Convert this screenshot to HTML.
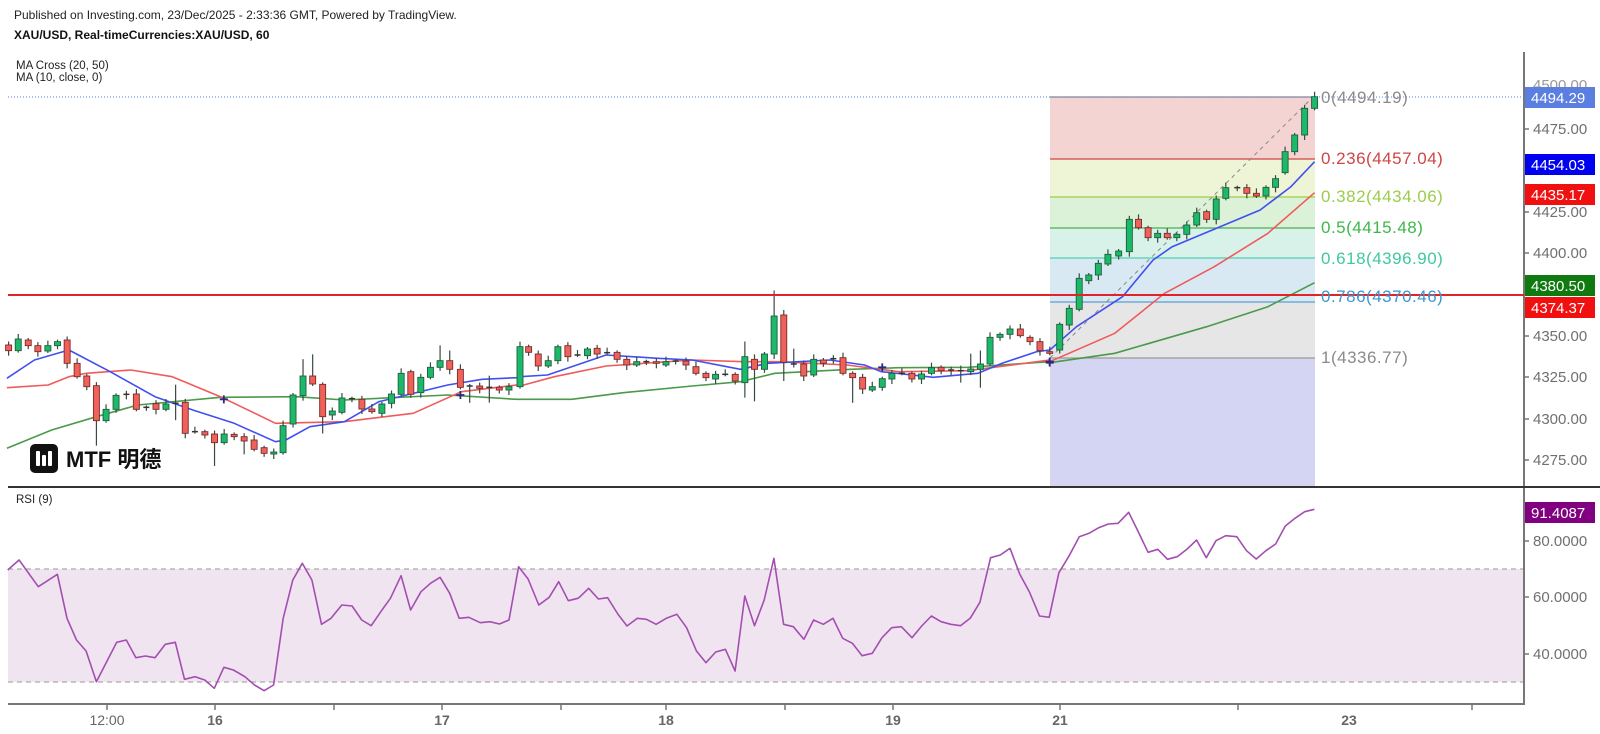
<!DOCTYPE html>
<html><head><meta charset="utf-8">
<style>
html,body{margin:0;padding:0;background:#fff;}
body{width:1600px;height:734px;overflow:hidden;position:relative;font-family:"Liberation Sans","Noto Sans CJK SC",sans-serif;}
svg{position:absolute;left:0;top:0;}
</style></head><body>
<svg id="s" width="1600" height="734" xmlns="http://www.w3.org/2000/svg" font-family="Liberation Sans, Noto Sans CJK SC, sans-serif">
<text x="14" y="19" font-size="12" fill="#222">Published on Investing.com, 23/Dec/2025 - 2:33:36 GMT, Powered by TradingView.</text>
<text x="14" y="39" font-size="12" font-weight="bold" fill="#111">XAU/USD, Real-timeCurrencies:XAU/USD, 60</text>
<text x="16" y="69" font-size="11.5" fill="#222">MA Cross (20, 50)</text>
<text x="16" y="81" font-size="11.5" fill="#222">MA (10, close, 0)</text>
<g id="fib"></g>
<g id="rsi"></g>
<g id="ma"></g>
<g id="cd"></g>
<!-- axes -->
<line x1="1524" y1="52" x2="1524" y2="705" stroke="#777" stroke-width="2"/>
<line x1="8" y1="487" x2="1600" y2="487" stroke="#333" stroke-width="2"/>
<line x1="8" y1="704" x2="1524" y2="704" stroke="#777" stroke-width="2"/>
<line x1="8" y1="295" x2="1524" y2="295" stroke="#e0242a" stroke-width="2"/>
<line x1="8" y1="97" x2="1524" y2="97" stroke="#5a7fe0" stroke-width="1" stroke-dasharray="1,2"/>
<g font-size="15" fill="#707070">
<text x="1533" y="90" fill="#999">4500.00</text>
<text x="1533" y="134">4475.00</text>
<text x="1533" y="217">4425.00</text>
<text x="1533" y="258">4400.00</text>
<text x="1533" y="341">4350.00</text>
<text x="1533" y="382">4325.00</text>
<text x="1533" y="424">4300.00</text>
<text x="1533" y="465">4275.00</text>
<text x="1533" y="546">80.0000</text>
<text x="1533" y="602">60.0000</text>
<text x="1533" y="659">40.0000</text>
</g>
<g stroke="#777" stroke-width="1.5">
<line x1="1524" y1="129" x2="1529" y2="129"/><line x1="1524" y1="212" x2="1529" y2="212"/>
<line x1="1524" y1="253" x2="1529" y2="253"/><line x1="1524" y1="336" x2="1529" y2="336"/>
<line x1="1524" y1="377" x2="1529" y2="377"/><line x1="1524" y1="419" x2="1529" y2="419"/>
<line x1="1524" y1="460" x2="1529" y2="460"/><line x1="1524" y1="541" x2="1529" y2="541"/>
<line x1="1524" y1="597" x2="1529" y2="597"/><line x1="1524" y1="654" x2="1529" y2="654"/>
</g>
<g font-size="15" fill="#fff">
<rect x="1525" y="87" width="70" height="21" fill="#5a7fe0"/><text x="1531" y="103">4494.29</text>
<rect x="1525" y="154" width="70" height="21" fill="#0000f0"/><text x="1531" y="170">4454.03</text>
<rect x="1525" y="184" width="70" height="21" fill="#f01010"/><text x="1531" y="200">4435.17</text>
<rect x="1525" y="275" width="70" height="21" fill="#0f7a0f"/><text x="1531" y="291">4380.50</text>
<rect x="1525" y="297" width="70" height="21" fill="#f01010"/><text x="1531" y="313">4374.37</text>
<rect x="1525" y="502" width="70" height="21" fill="#800080"/><text x="1531" y="518">91.4087</text>
</g>
<text x="16" y="503" font-size="11.5" fill="#222">RSI (9)</text>
<!-- time axis -->
<g stroke="#777" stroke-width="1.5">
<line x1="107" y1="704" x2="107" y2="710"/><line x1="215" y1="704" x2="215" y2="710"/>
<line x1="334" y1="704" x2="334" y2="710"/><line x1="442" y1="704" x2="442" y2="710"/>
<line x1="561" y1="704" x2="561" y2="710"/><line x1="666" y1="704" x2="666" y2="710"/>
<line x1="785" y1="704" x2="785" y2="710"/><line x1="893" y1="704" x2="893" y2="710"/>
<line x1="1060" y1="704" x2="1060" y2="710"/><line x1="1238" y1="704" x2="1238" y2="710"/>
<line x1="1472" y1="704" x2="1472" y2="710"/>
</g>
<g font-size="14" fill="#666" text-anchor="middle">
<text x="107" y="725">12:00</text>
<text x="215" y="725" font-weight="bold">16</text>
<text x="442" y="725" font-weight="bold">17</text>
<text x="666" y="725" font-weight="bold">18</text>
<text x="893" y="725" font-weight="bold">19</text>
<text x="1060" y="725" font-weight="bold">21</text>
<text x="1349" y="725" font-weight="bold">23</text>
</g>
<!-- fib labels -->
<g font-size="17" letter-spacing="0.5">
<text x="1321" y="103" fill="#8a8a8a">0(4494.19)</text>
<text x="1321" y="164" fill="#d04545">0.236(4457.04)</text>
<text x="1321" y="202" fill="#9ccc4c">0.382(4434.06)</text>
<text x="1321" y="233" fill="#3cb84a">0.5(4415.48)</text>
<text x="1321" y="264" fill="#40c8a0">0.618(4396.90)</text>
<text x="1321" y="302" fill="#3c96d0">0.786(4370.46)</text>
<text x="1321" y="363" fill="#8a8a8a">1(4336.77)</text>
</g>
<!-- logo -->
<rect x="30" y="444" width="28" height="29" rx="5" fill="#111"/>
<rect x="36" y="451" width="4" height="15" rx="1" fill="#fff"/><rect x="42" y="455" width="4" height="11" rx="1" fill="#fff"/><rect x="48" y="451" width="4" height="15" rx="1" fill="#fff"/>
<text x="66" y="467" font-size="22" font-weight="bold" fill="#111">MTF 明德</text>
</svg>
<script>
const NS="http://www.w3.org/2000/svg";
function el(p,t,a){const e=document.createElementNS(NS,t);for(const k in a)e.setAttribute(k,a[k]);p.appendChild(e);return e;}
const Z={5:{ox:0,oy:280,sx:2.904},6:{ox:520,oy:280,sx:2.904},2:{ox:1000,oy:60,sx:2.613},1:{ox:0,oy:470,sx:2.613},7:{ox:580,oy:490,sx:2.063}};
function P(z,xd,yd){return [Z[z].ox+xd/Z[z].sx,Z[z].oy+yd/3];}
// fib
const fib=document.getElementById('fib');
const fx=1050,fw=265;
const bands=[[97,159,'#f4d3d3'],[159,197,'#eef5d6'],[197,228,'#dbf1d8'],[228,258,'#d8f2e9'],[258,302,'#d8e9f4'],[302,358,'#e6e6e6'],[358,487,'#d4d4f3']];
bands.forEach(b=>el(fib,'rect',{x:fx,y:b[0],width:fw,height:b[1]-b[0],fill:b[2]}));
[[97,'#888'],[159,'#d04545'],[197,'#9ccc4c'],[228,'#4caf50'],[258,'#50d0b0'],[302,'#5aa0d0'],[358,'#999']].forEach(l=>el(fib,'line',{x1:fx,y1:l[0],x2:fx+fw,y2:l[0],stroke:l[1],'stroke-width':1.3}));
el(fib,'line',{x1:1050,y1:358,x2:1313,y2:97,stroke:'#888','stroke-width':1,'stroke-dasharray':'4,4'});
// rsi
const rs=document.getElementById('rsi');
el(rs,'rect',{x:8,y:569,width:1516,height:113,fill:'#f1e4f1'});
el(rs,'line',{x1:8,y1:569,x2:1524,y2:569,stroke:'#aaa','stroke-width':1.3,'stroke-dasharray':'5,4'});
el(rs,'line',{x1:8,y1:682,x2:1524,y2:682,stroke:'#aaa','stroke-width':1.3,'stroke-dasharray':'5,4'});
const r1=[[20,300],[50,270],[100,350],[150,313],[175,445],[200,510],[225,543],[252,635],[305,517],[330,510],[355,563],[380,558],[405,563],[432,523],[458,517],[482,628],[510,620],[535,630],[560,655],[585,592],[610,600],[640,620],[665,645],[690,662],[715,645],[740,445],[765,330],[790,280],[815,330],[840,463],[865,445],[893,405],[920,408],[945,450],[970,467],[995,425],[1020,385],[1048,317],[1073,420],[1100,365],[1125,340],[1150,322],[1175,370],[1200,445],[1225,442],[1255,458],[1280,455],[1305,462],[1330,450],[1355,290],[1380,327],[1408,405],[1435,382],[1460,335],[1485,392],[1510,385]];
const r7=[[0,320],[18,295],[38,327],[57,323],[78,372],[97,408],[118,385],[137,388],[157,403],[178,385],[200,373],[220,413],[240,482],[260,518],[280,486],[300,478],[320,543],[340,318],[360,407],[380,330],[400,205],[420,403],[440,410],[462,448],[482,390],[502,403],[522,385],[542,445],[562,460],[582,497],[603,490],[623,443],[643,413],[663,410],[685,443],[705,408],[725,378],[745,395],[765,403],[785,407],[805,385],[825,337],[847,203],[867,195],[887,175],[907,252],[927,305],[948,378],[968,382],[988,248],[1008,200],[1030,140],[1050,130],[1070,113],[1090,102],[1110,100],[1132,67],[1150,120],[1172,187],[1192,178],[1212,208],[1232,200],[1252,178],[1272,150],[1292,203],[1312,152],[1332,137],[1355,140],[1375,182],[1395,207],[1415,182],[1435,162],[1455,108],[1475,85],[1495,65],[1515,58]];
let pts=r1.map(p=>P(1,p[0],p[1])).concat(r7.map(p=>P(7,p[0],p[1])));
el(rs,'polyline',{points:pts.map(p=>p[0].toFixed(1)+','+p[1].toFixed(1)).join(' '),fill:'none',stroke:'#a34fb0','stroke-width':1.6,'stroke-linejoin':'round'});
// MAs
const ma=document.getElementById('ma');
function line(arrs,col){let p=[];arrs.forEach(a=>a[1].forEach(q=>p.push(P(a[0],q[0],q[1]))));el(ma,'polyline',{points:p.map(q=>q[0].toFixed(1)+','+q[1].toFixed(1)).join(' '),fill:'none',stroke:col,'stroke-width':1.6,'stroke-linejoin':'round'});}
line([[5,[[20,505],[150,450],[280,410],[400,375],[640,352],[860,350],[1000,360],[1300,345],[1500,358]]],[6,[[0,358],[150,358],[300,338],[500,318],[640,305],[740,280],[960,268],[1100,263],[1300,262],[1538,245]]],[2,[[130,908],[300,880],[540,800],[700,740],[822,668]]]],'#4a9a4a');
line([[5,[[20,323],[140,315],[200,290],[250,280],[380,270],[500,290],[640,350],[800,430],[1000,425],[1200,400],[1340,335],[1500,315]]],[6,[[0,318],[100,290],[250,258],[500,240],[650,245],[750,245],[950,255],[1100,275],[1300,272],[1538,240]]],[2,[[130,905],[300,820],[430,700],[560,620],[700,520],[822,398]]]],'#f05a5a');
line([[5,[[20,295],[100,240],[200,210],[320,275],[450,350],[560,390],[680,430],[800,485],[830,480],[900,440],[1000,425],[1100,365],[1300,315],[1400,298],[1500,293]]],[6,[[0,290],[80,285],[250,225],[400,235],[500,240],[640,268],[720,250],[900,240],[1000,255],[1050,275],[1200,292],[1330,280],[1400,250],[1500,215],[1538,210]]],[2,[[130,870],[200,800],[320,710],[400,600],[450,560],[680,450],[760,380],[822,305]]]],'#4050f0');
// candles [xd,o,c,hiExt,loExt]
const c5=[[25,195,212],[53,212,177],[82,180,197],[110,197,215],[139,213,197],[167,197,185],[195,180,250],[224,250,290],[252,288,320],[280,317,422,0,60],[308,422,388],[337,388,346],[367,343,343],[396,342,388],[425,382,382],[453,371,388],[482,388,372],[510,370,370,50,40],[538,367,460],[566,455,455],[595,455,465],[623,462,488,0,55],[651,488,462],[680,463,470],[709,470,483,0,25],[738,480,508],[767,503,520],[795,522,516],[822,518,437],[851,432,345],[880,347,288,40,0],[908,288,312,50,0],[937,313,410,0,40],[965,405,393],[993,397,354],[1022,356,356],[1051,358,387],[1080,387,395],[1109,400,372],[1137,370,342],[1165,343,280],[1193,275,343],[1222,338,292],[1250,292,262],[1278,262,242,40,0],[1306,242,268,20,0],[1337,268,322],[1364,318,318,0,40],[1393,318,325],[1421,322,322,20,40],[1450,322,330],[1478,330,320]];
const c6=[[0,320,200],[25,200,217],[53,222,258],[82,258,242],[110,242,200],[139,197,230],[167,225,225],[196,227,207],[224,205,222],[253,218,218],[282,217,238],[310,238,255],[339,255,245],[367,245,245],[396,245,250],[424,255,245],[452,243,243],[482,243,255],[511,260,280],[540,280,293],[568,297,283],[596,283,283],[625,283,303],[653,308,230,35,30],[681,238,268,0,90],[710,268,222],[738,222,108,66,0],[766,105,247,0,50],[795,252,252,40,0],[824,252,288],[853,285,238],[881,240,250],[910,236,236],[938,233,280],[966,280,293,0,65],[995,292,327],[1023,330,320],[1052,322,296],[1080,297,280],[1109,280,280],[1138,280,297],[1166,297,282],[1195,280,263],[1223,262,272],[1252,270,270],[1280,272,272,0,30],[1309,275,267,40,0],[1337,268,252,30,40],[1365,252,172],[1394,172,163],[1423,163,147],[1453,147,167],[1481,172,185],[1510,185,212]];
const c2=[[130,875,880],[156,870,793],[181,795,745],[207,748,655],[232,662,645],[257,645,610],[282,612,583],[310,588,573],[338,575,478],[362,478,503],[387,503,533],[412,533,520],[437,520,533],[462,533,523],[488,523,495],[514,495,458],[540,455,478],[565,478,417],[590,415,383],[620,383,383],[645,383,400],[670,400,408],[695,408,382],[720,382,356],[745,338,275],[770,275,225],[796,225,145],[822,145,110]];
const cd=document.getElementById('cd');
let k=0;
function draw(z,arr){arr.forEach(c=>{k++;const x=Z[z].ox+c[0]/Z[z].sx;const yo=Z[z].oy+c[1]/3,yc=Z[z].oy+c[2]/3;
const top=Math.min(yo,yc),bot=Math.max(yo,yc);const he=(c[3]||0)/3+2+(k%3)*1.5,le=(c[4]||0)/3+2+((k+1)%3)*1.5;
el(cd,'line',{x1:x,y1:top-he,x2:x,y2:bot+le,stroke:'#3a4a40','stroke-width':1.2});
if(bot-top<1.5){el(cd,'line',{x1:x-3,y1:top,x2:x+3,y2:top,stroke:'#333','stroke-width':1.5});}
else{const up=yc<yo;el(cd,'rect',{x:x-3,y:top,width:6,height:bot-top,fill:up?'#1db96a':'#f0615a',stroke:up?'#1f5e3c':'#7a2c2c','stroke-width':0.9});}
});}
draw(5,c5);draw(6,c6);draw(2,c2);
[[5,650,358],[5,1337,345],[6,1052,262],[6,1538,245],[2,130,908]].forEach(p=>{const q=P(p[0],p[1],p[2]);el(cd,'path',{d:`M${q[0]-4},${q[1]}h8M${q[0]},${q[1]-4}v8`,stroke:'#2a2a7a','stroke-width':1.8});});
</script>
</body></html>
